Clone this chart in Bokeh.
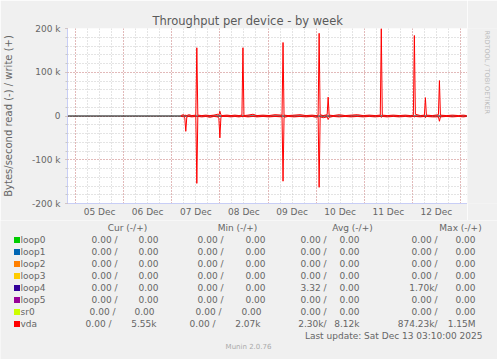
import math
import pandas as pd
from bokeh.plotting import figure
from bokeh.layouts import row, column
from bokeh.core.properties import value
from bokeh.models import (FixedTicker, Span, Range1d, DatetimeTickFormatter, ColumnDataSource)
from bokeh.embed import file_html
from bokeh.resources import INLINE

# ---------------- data ----------------
# vda throughput, 30-min averages (kB/s); write positive, read shown negative
vda_time = [
    "2025-12-07 04:30", "2025-12-07 05:00", "2025-12-07 06:00", "2025-12-07 06:30", "2025-12-07 07:00",
    "2025-12-07 07:30", "2025-12-07 08:30", "2025-12-07 10:00", "2025-12-07 12:00", "2025-12-07 12:30",
    "2025-12-07 13:00", "2025-12-07 15:00", "2025-12-07 17:00", "2025-12-07 19:00", "2025-12-07 21:00",
    "2025-12-07 23:00", "2025-12-07 23:30", "2025-12-08 00:00", "2025-12-08 00:30", "2025-12-08 01:00",
    "2025-12-08 03:30", "2025-12-08 05:30", "2025-12-08 07:30", "2025-12-08 09:30", "2025-12-08 11:00",
    "2025-12-08 11:30", "2025-12-08 12:00", "2025-12-08 14:00", "2025-12-08 16:30", "2025-12-08 18:30",
    "2025-12-08 21:30", "2025-12-09 00:30", "2025-12-09 03:30", "2025-12-09 07:00", "2025-12-09 07:30",
    "2025-12-09 08:00", "2025-12-09 10:00", "2025-12-09 13:00", "2025-12-09 16:00", "2025-12-09 19:00",
    "2025-12-09 22:00", "2025-12-10 00:00", "2025-12-10 01:00", "2025-12-10 01:30", "2025-12-10 02:00",
    "2025-12-10 03:30", "2025-12-10 05:30", "2025-12-10 06:00", "2025-12-10 06:30", "2025-12-10 08:30",
    "2025-12-10 11:30", "2025-12-10 14:30", "2025-12-10 17:30", "2025-12-10 20:30", "2025-12-10 23:30",
    "2025-12-11 02:30", "2025-12-11 05:30", "2025-12-11 08:00", "2025-12-11 08:30", "2025-12-11 09:00",
    "2025-12-11 11:30", "2025-12-11 14:30", "2025-12-11 17:30", "2025-12-11 20:30", "2025-12-11 23:00",
    "2025-12-12 00:30", "2025-12-12 01:00", "2025-12-12 01:30", "2025-12-12 04:00", "2025-12-12 06:00",
    "2025-12-12 06:30", "2025-12-12 07:00", "2025-12-12 10:00", "2025-12-12 13:00", "2025-12-12 13:30",
    "2025-12-12 14:00", "2025-12-12 17:00", "2025-12-12 20:00", "2025-12-12 23:00", "2025-12-13 01:30",
    "2025-12-13 03:00",
]
vda_write = [
    0, 2, 3, 1, 2, 1, 3, 1, 2, 156,
    2, 1, 2, 1, 2, 4, 2, 11, 3, 1,
    2, 1, 2, 1, 2, 156, 1, 2, 4, 1,
    2, 1, 3, 2, 168, 2, 1, 2, 3, 1,
    2, 1, 2, 189, 3, 1, 3, 43, 2, 1,
    3, 1, 2, 3, 1, 2, 1, 2, 200, 2,
    1, 2, 1, 2, 1, 2, 184, 4, 1, 2,
    42, 2, 1, 3, 81, 2, 1, 2, 1, 2,
    1,
]
vda_read = [
    0, -1, -2, -4, -35, -2, -1, -2, -1, -154,
    -1, -2, -1, -3, -1, -2, -6, -50, -4, -1,
    -1, -2, -1, -2, -1, -2, -1, -2, -1, -2,
    -1, -2, -1, -2, -149, -3, -1, -2, -1, -2,
    -1, -3, -2, -163, -2, -4, -2, -8, -3, -1,
    -2, -1, -2, -1, -2, -1, -2, -1, -3, -1,
    -2, -1, -2, -1, -2, -1, -2, -1, -2, -1,
    -4, -1, -2, -2, -12, -2, -1, -2, -1, -2,
    -1,
]

# legend table
devices = ["loop0", "loop1", "loop2", "loop3", "loop4", "loop5", "sr0", "vda"]
dev_colors = ["#00CC00", "#0066B3", "#FF8000", "#FFCC00", "#330099", "#990099", "#CCFF00", "#FF0000"]
cur_read = ["0.00", "0.00", "0.00", "0.00", "0.00", "0.00", "0.00", "0.00"]
cur_write = ["0.00", "0.00", "0.00", "0.00", "0.00", "0.00", "0.00", "5.55k"]
min_read = ["0.00", "0.00", "0.00", "0.00", "0.00", "0.00", "0.00", "0.00"]
min_write = ["0.00", "0.00", "0.00", "0.00", "0.00", "0.00", "0.00", "2.07k"]
avg_read = ["0.00", "0.00", "0.00", "0.00", "3.32", "0.00", "0.00", "2.30k"]
avg_write = ["0.00", "0.00", "0.00", "0.00", "0.00", "0.00", "0.00", "8.12k"]
max_read = ["0.00", "0.00", "0.00", "0.00", "1.70k", "0.00", "0.00", "874.23k"]
max_write = ["0.00", "0.00", "0.00", "0.00", "0.00", "0.00", "0.00", "1.15M"]
col_headers = ["Cur (-/+)", "Min (-/+)", "Avg (-/+)", "Max (-/+)"]

y_ticks = [-200, -100, 0, 100, 200]
y_tick_labels = ["-200 k", "-100 k", "0", "100 k", "200 k"]
day_label_days = ["2025-12-05", "2025-12-06", "2025-12-07", "2025-12-08",
                  "2025-12-09", "2025-12-10", "2025-12-11", "2025-12-12"]

title_text = "Throughput per device - by week"
y_label = "Bytes/second read (-) / write (+)"
last_update = "Last update: Sat Dec 13 03:10:00 2025"
version_text = "Munin 2.0.76"
side_text = "RRDTOOL / TOBI OETIKER"
x_start = "2025-12-04 20:00"
x_end = "2025-12-13 03:30"

# ---------------- styles ----------------
FONT = "DejaVu Sans"
TXT = "#666666"
BG = "#F0F0F0"
AXIS_C = "#C8CEF6"
MGRID = "#E09090"
GRID = "#C8C8C8"


def ms(t):
    return pd.Timestamp(t).value / 1e6


# ---------------- main graph (page x 0..467, y 0..220) ----------------
p = figure(width=467, height=220, output_backend="svg", toolbar_location=None,
           x_axis_type="datetime", title=title_text,
           x_range=Range1d(pd.Timestamp(x_start), pd.Timestamp(x_end)),
           y_range=Range1d(-200, 200),
           min_border_left=67, min_border_right=0, min_border_top=28, min_border_bottom=17)
p.background_fill_color = "white"
p.border_fill_color = BG
p.outline_line_color = None

p.title.align = "left"
p.title.offset = 85
p.title.standoff = 2
p.title.vertical_align = "bottom"
p.title.text_font = FONT
p.title.text_font_size = "11.5px"
p.title.text_font_style = "normal"
p.title.text_color = "#5A5A5A"

midnights = pd.date_range("2025-12-05", "2025-12-13", freq="1D")
six_hours = pd.date_range("2025-12-04 18:00", "2025-12-13 06:00", freq="6h")
p.xgrid.ticker = FixedTicker(ticks=[ms(t) for t in midnights], minor_ticks=[ms(t) for t in six_hours])
p.ygrid.ticker = FixedTicker(ticks=y_ticks, minor_ticks=list(range(-200, 201, 20)))
for g in (p.xgrid, p.ygrid):
    g.grid_line_color = MGRID
    g.grid_line_dash = "1 2"
    g.grid_line_width = 1
    g.minor_grid_line_color = GRID
    g.minor_grid_line_dash = "1 2"
    g.minor_grid_line_width = 1

xa = p.xaxis[0]
xa.ticker = FixedTicker(ticks=[ms(pd.Timestamp(d) + pd.Timedelta(hours=12)) for d in day_label_days])
fmt = "%d %b"
xa.formatter = DatetimeTickFormatter(milliseconds=fmt, seconds=fmt, minsec=fmt, minutes=fmt,
                                     hourmin=fmt, hours=fmt, days=fmt, months=fmt, years=fmt)
xa.axis_line_color = AXIS_C
xa.major_tick_line_color = None
xa.minor_tick_line_color = None
xa.major_tick_out = 0
xa.major_tick_in = 0
xa.minor_tick_out = 0
xa.minor_tick_in = 0
xa.major_label_standoff = 3
xa.major_label_text_font = FONT
xa.major_label_text_font_size = "9px"
xa.major_label_text_color = TXT

ya = p.yaxis[0]
ya.ticker = FixedTicker(ticks=y_ticks, minor_ticks=list(range(-200, 201, 20)))
ya.major_label_overrides = {t: s for t, s in zip(y_ticks, y_tick_labels)}
ya.axis_line_color = AXIS_C
ya.major_tick_line_color = MGRID
ya.major_tick_out = 2
ya.major_tick_in = 0
ya.minor_tick_line_color = GRID
ya.minor_tick_out = 2
ya.minor_tick_in = 0
ya.major_label_standoff = 5
ya.major_label_text_font = FONT
ya.major_label_text_font_size = "9px"
ya.major_label_text_color = TXT
ya.axis_label = y_label
ya.axis_label_text_font = FONT
ya.axis_label_text_font_size = "10px"
ya.axis_label_text_font_style = "normal"
ya.axis_label_text_color = TXT
ya.axis_label_standoff = 15

p.add_layout(Span(location=0, dimension="width", line_color="black", line_width=1, level="underlay"))

src = ColumnDataSource(dict(t=pd.to_datetime(vda_time), w=vda_write, r=vda_read))
p.line("t", "w", source=src, line_color="#FF0000", line_width=1)
p.line("t", "r", source=src, line_color="#FF0000", line_width=1)


def panel(w, h, x0, y0):
    """A plain canvas whose data units are page pixels."""
    f = figure(width=w, height=h, output_backend="svg", toolbar_location=None,
               x_axis_location=None, y_axis_location=None,
               x_range=Range1d(x0, x0 + w), y_range=Range1d(y0 + h, y0),
               min_border=0, min_border_left=0, min_border_right=0,
               min_border_top=0, min_border_bottom=0)
    f.background_fill_color = BG
    f.border_fill_color = BG
    f.outline_line_color = None
    f.grid.visible = False
    return f


def txt(f, xs, ys, texts, align="left", size="9px", color=TXT, angle=0.0):
    f.text(x=xs, y=ys, text=texts, text_font=value(FONT), text_font_size=value(size),
           text_color=color, text_align=align, text_baseline="middle", angle=angle)


# ---------------- side watermark (page x 467..497, y 0..220) ----------------
side = panel(30, 220, 467, 0)
txt(side, [486], [55], [side_text], align="center", size="6.5px", color="#BBBBBB", angle=-math.pi / 2)

# ---------------- legend table (page x 0..497, y 220..359) ----------------
leg = panel(497, 139, 0, 220)
header_cx = [127, 237, 352, 460]
txt(leg, header_cx, [227] * 4, col_headers, align="center")

row_y0, row_dy = 239, 12
right_edges = [117, 158, 223, 265, 326, 359, 437, 475]
row_shift = {"sr0": [-2, -4, -2, -4, 0, 0, 0, 0], "vda": [-6, -2, -8, -5, 0, 0, 0, 0]}


def rd(v):
    return v + (" /" if v[-1].isdigit() else "/")


row_ys = [row_y0 + i * row_dy for i in range(len(devices))]
leg.rect(x=[16.5] * len(devices), y=[y + 0.5 for y in row_ys], width=6, height=6,
         fill_color=dev_colors, line_color=None)
txt(leg, [20] * len(devices), row_ys, devices)
fx, fy, ft = [], [], []
for i, dev in enumerate(devices):
    fields = [rd(cur_read[i]), cur_write[i], rd(min_read[i]), min_write[i],
              rd(avg_read[i]), avg_write[i], rd(max_read[i]), max_write[i]]
    sh = row_shift.get(dev, [0] * 8)
    for f, xr, s in zip(fields, right_edges, sh):
        fx.append(xr + s)
        fy.append(row_ys[i])
        ft.append(f)
txt(leg, fx, fy, ft, align="right")
txt(leg, [482], [335], [last_update], align="right")
txt(leg, [248], [346], [version_text], align="center", size="7px", color="#AAAAAA")

layout = column(row(p, side), leg)

open("out.html", "w").write(file_html(layout, INLINE))
